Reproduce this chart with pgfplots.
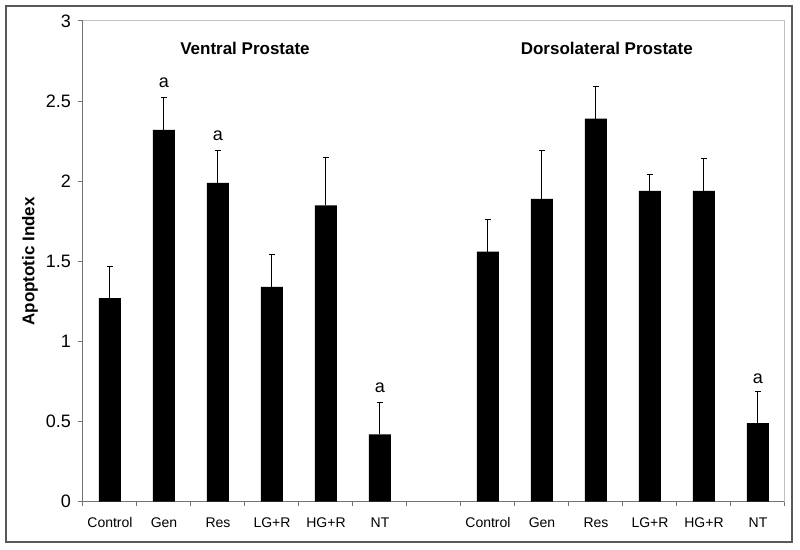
\documentclass[border=0pt]{standalone}
\usepackage{pgfplots}
\pgfplotsset{compat=1.18}
\usepackage{fontspec}
\setmainfont{Liberation Sans}
\begin{document}
\begin{tikzpicture}
\path[use as bounding box] (-41.5pt,-24.15pt) rectangle (358.5pt,250.85pt);
\draw[line width=1pt, color=black!65] (-38.5pt,-20.15pt) rectangle (354.5pt,247.85pt);
\begin{axis}[
  width=351pt, height=240.35pt, scale only axis,
  xmin=-0.5, xmax=12.5, ymin=0, ymax=3,
  axis lines*=left,
  axis line style={black!55, line width=0.5pt},
  ytick={0,0.5,1,1.5,2,2.5,3},
  yticklabel style={font=\fontsize{9}{10}\selectfont},
  /pgf/number format/assume math mode=true,
  tick align=outside,
  major tick length=2.5pt,
  minor tick length=2pt,
  y tick style={black!55, line width=0.5pt},
  xtick={0,1,2,3,4,5,7,8,9,10,11,12},
  xticklabels={Control,Gen,Res,LG+R,HG+R,NT,Control,Gen,Res,LG+R,HG+R,NT},
  major x tick style={draw=none},
  minor xtick={-0.5,0.5,...,12.5},
  minor x tick style={black!55, line width=0.5pt},
  xticklabel style={font=\fontsize{7}{8}\selectfont, yshift=-2pt},
  every axis y label/.style={at={([xshift=-26.5pt]axis description cs:0,0.5)}, anchor=center, rotate=90},
  ylabel={\bfseries\fontsize{8.5}{10}\selectfont Apoptotic Index},
  ybar, bar width=11pt, bar shift=0pt,
  clip=false,
]
\draw[black!25, line width=0.5pt] (rel axis cs:0,1) -- (rel axis cs:1,1) -- (rel axis cs:1,0);
\addplot[fill=black, draw=none,
  error bars/.cd, y dir=plus, y explicit,
  error bar style={black, line width=0.5pt},
  error mark options={rotate=90, mark size=1.6pt, black, line width=0.5pt}]
  coordinates {
  (0,1.27) +- (0,0.20)
  (1,2.32) +- (0,0.20)
  (2,1.99) +- (0,0.20)
  (3,1.34) +- (0,0.20)
  (4,1.85) +- (0,0.30)
  (5,0.42) +- (0,0.20)
  };
\addplot[fill=black, draw=none,
  error bars/.cd, y dir=plus, y explicit,
  error bar style={black, line width=0.5pt},
  error mark options={rotate=90, mark size=1.6pt, black, line width=0.5pt}]
  coordinates {
  (7,1.56) +- (0,0.20)
  (8,1.89) +- (0,0.30)
  (9,2.39) +- (0,0.20)
  (10,1.94) +- (0,0.10)
  (11,1.94) +- (0,0.20)
  (12,0.49) +- (0,0.20)
  };
\node[font=\bfseries\fontsize{8.5}{10}\selectfont] at (axis cs:2.5,2.83) {Ventral Prostate};
\node[font=\bfseries\fontsize{8.5}{10}\selectfont] at (axis cs:9.2,2.83) {Dorsolateral Prostate};
\node[font=\fontsize{9}{10}\selectfont, anchor=base, inner sep=0pt] at ([yshift=5pt]axis cs:1,2.52) {a};
\node[font=\fontsize{9}{10}\selectfont, anchor=base, inner sep=0pt] at ([yshift=5pt]axis cs:2,2.19) {a};
\node[font=\fontsize{9}{10}\selectfont, anchor=base, inner sep=0pt] at ([yshift=5pt]axis cs:5,0.62) {a};
\node[font=\fontsize{9}{10}\selectfont, anchor=base, inner sep=0pt] at ([yshift=4pt]axis cs:12,0.69) {a};
\end{axis}
\end{tikzpicture}
\end{document}
